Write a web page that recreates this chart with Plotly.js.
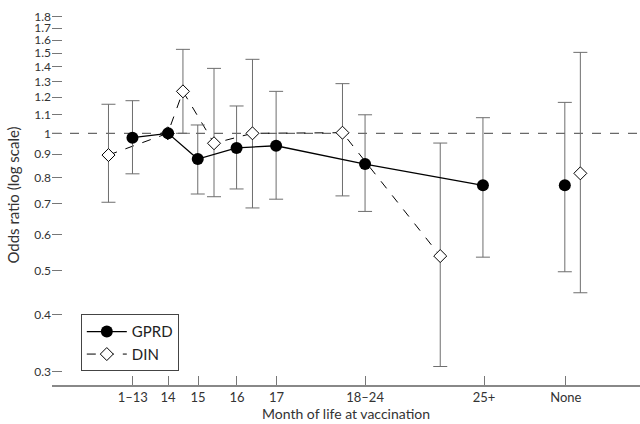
<!DOCTYPE html>
<html>
<head>
<meta charset="utf-8">
<script src="https://cdn.plot.ly/plotly-3.0.1.min.js"></script>
<style>html,body{margin:0;padding:0;background:#fff;}#chart{width:640px;height:424px;}</style>
</head>
<body>
<div id="chart"></div>
<script>
// Tick categories (positions along the month axis, in arbitrary units)
const tickLabels = ["1\u201313", "14", "15", "16", "17", "18\u201324", "25+", "None"];
const tickPos = [1, 2, 2.85, 3.95, 5.07, 7.58, 10.95, 13.27];

// GPRD series
const gprdX = [0.99, 2.0, 2.84, 3.94, 5.06, 7.58, 10.92, 13.24];
const gprdOR = [0.978, 1.0, 0.878, 0.929, 0.939, 0.856, 0.769, 0.769];
const gprdUpper = [1.179, null, 1.043, 1.148, 1.236, 1.098, 1.082, 1.169];
const gprdLower = [0.815, null, 0.736, 0.755, 0.717, 0.674, 0.535, 0.497];

// DIN series
const dinX = [0.31, 1.99, 2.42, 3.30, 4.39, 6.94, 9.71, 13.68];
const dinOR = [0.896, 1.0, 1.236, 0.951, 1.0, 1.003, 0.538, 0.817];
const dinUpper = [1.158, null, 1.528, 1.388, 1.453, 1.285, 0.952, 1.505];
const dinLower = [0.706, null, 1.0, 0.726, 0.686, 0.729, 0.308, 0.447];

const yTicks = [0.3, 0.4, 0.5, 0.6, 0.7, 0.8, 0.9, 1, 1.1, 1.2, 1.3, 1.4, 1.5, 1.6, 1.7, 1.8];
const refValue = 1;

function errs(v, up, lo, i0, i1) {
  const plus = [], minus = [];
  for (let i = i0; i < i1; i++) {
    plus.push(up[i] == null ? NaN : up[i] - v[i]);
    minus.push(lo[i] == null ? NaN : v[i] - lo[i]);
  }
  return {type: 'data', symmetric: false, array: plus, arrayminus: minus,
          color: '#6e6e6e', thickness: 1, width: 7};
}

const n = gprdX.length;
const gprdMarker = {symbol: 'circle', size: 12, color: '#000'};
const dinMarker = {symbol: 'diamond', size: 10, color: '#fff', line: {color: '#000', width: 1}};

const traces = [
  {x: dinX.slice(0, n - 1), y: dinOR.slice(0, n - 1), mode: 'lines+markers', name: 'DIN',
   line: {color: '#000', width: 1, dash: 'dash'}, marker: dinMarker,
   error_y: errs(dinOR, dinUpper, dinLower, 0, n - 1), showlegend: false},
  {x: dinX.slice(n - 1), y: dinOR.slice(n - 1), mode: 'markers', name: 'DIN',
   marker: dinMarker, error_y: errs(dinOR, dinUpper, dinLower, n - 1, n), showlegend: false},
  {x: gprdX.slice(0, n - 1), y: gprdOR.slice(0, n - 1), mode: 'lines+markers', name: 'GPRD',
   line: {color: '#000', width: 1.3}, marker: gprdMarker,
   error_y: errs(gprdOR, gprdUpper, gprdLower, 0, n - 1), showlegend: false},
  {x: gprdX.slice(n - 1), y: gprdOR.slice(n - 1), mode: 'markers', name: 'GPRD',
   marker: gprdMarker, error_y: errs(gprdOR, gprdUpper, gprdLower, n - 1, n), showlegend: false},
  // legend entries
  {x: [null], y: [null], mode: 'lines+markers', name: 'GPRD',
   line: {color: '#000', width: 1.3}, marker: gprdMarker},
  {x: [null], y: [null], mode: 'lines+markers', name: 'DIN',
   line: {color: '#000', width: 1, dash: 'dash'}, marker: dinMarker}
];

const layout = {
  width: 640, height: 424,
  margin: {l: 52, r: 0, t: 5, b: 39},
  paper_bgcolor: '#fff', plot_bgcolor: '#fff',
  font: {family: 'Lato, "Open Sans", sans-serif', size: 13, color: '#333'},
  xaxis: {
    range: [-1.29, 15.37], tickmode: 'array', tickvals: tickPos, ticktext: tickLabels,
    ticks: 'inside', ticklen: 9, tickcolor: '#777', tickwidth: 1,
    showline: true, linecolor: '#888', linewidth: 1.5, showgrid: false, zeroline: false,
    tickfont: {size: 13},
    title: {text: 'Month of life at vaccination', font: {size: 14}, standoff: 2}
  },
  yaxis: {
    type: 'log', range: [-0.552, 0.2814], tickmode: 'array', tickvals: yTicks,
    ticktext: yTicks.map(String),
    ticks: 'inside', ticklen: 10, tickcolor: '#777', tickwidth: 1,
    showline: false, showgrid: false, zeroline: false,
    tickfont: {size: 12},
    title: {text: 'Odds ratio (log scale)', font: {size: 15}, standoff: 10}
  },
  shapes: [{type: 'line', xref: 'paper', x0: 0, x1: 1, yref: 'y', y0: refValue, y1: refValue,
            line: {color: '#444', width: 1, dash: 'dash'}, layer: 'below'}],
  legend: {x: 0.049, y: 0.186, xanchor: 'left', yanchor: 'top',
           bordercolor: '#444', borderwidth: 1, bgcolor: '#fff',
           font: {size: 15, color: '#222'}, tracegroupgap: 2, itemwidth: 40},
  showlegend: true
};

Plotly.newPlot('chart', traces, layout, {displayModeBar: false, staticPlot: true});
</script>
</body>
</html>
